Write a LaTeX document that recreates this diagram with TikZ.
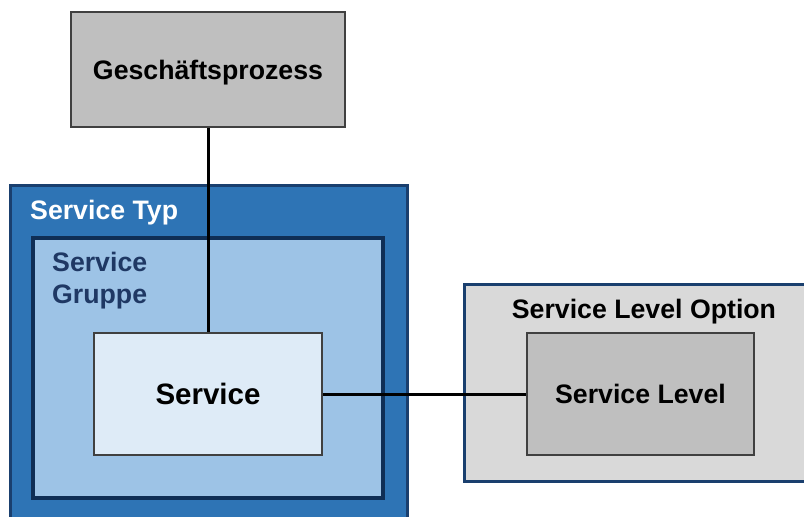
\documentclass[tikz,border=0pt]{standalone}
\usepackage{fontspec}
\setmainfont{Liberation Sans}
\definecolor{typfill}{HTML}{2E74B5}
\definecolor{typline}{HTML}{1A3F6E}
\definecolor{grpfill}{HTML}{9DC3E6}
\definecolor{grpline}{HTML}{0F2E55}
\definecolor{grptext}{HTML}{1F3864}
\definecolor{svcfill}{HTML}{DEEBF7}
\definecolor{boxline}{HTML}{404040}

\tikzset{
  lbl/.style={font=\bfseries\fontsize{26.7}{32}\selectfont},
  graybox/.style={draw=boxline, line width=1.5pt, lbl},
  link/.style={line width=3pt, black}
}

\begin{document}
\begin{tikzpicture}[x=1pt,y=1pt]
  \tikzstyle{every node}+=[inner sep=0pt]
  \useasboundingbox (0,0) rectangle (804,-517);
  \fill [white] (0,0) rectangle (804,-517);
  % business process
  \node [graybox, fill=black!25, minimum width=274, minimum height=115, text depth=0pt] (gp) at (208,-69.5) {Geschäftsprozess};
  % service type / group
  \node [draw=typline, fill=typfill, line width=3pt, minimum width=397, minimum height=340] (typ) at (208.5,-355) {};
  \node [lbl, white, anchor=base west] (typlbl) at (30,-219) {Service Typ};
  \node [draw=grpline, fill=grpfill, line width=3.5pt, minimum width=350, minimum height=260] (grp) at (208,-368) {};
  \node [lbl, grptext, anchor=north west, align=left] (grplbl) at (52,-252) {Service\\Gruppe};
  \node [graybox, fill=svcfill, minimum width=228, minimum height=122,
         font=\bfseries\fontsize{29.5}{34}\selectfont] (svc) at (208,-394) {Service};
  % service level option
  \node [draw=typline, fill=black!15, line width=3pt, minimum width=360, minimum height=197] (slo) at (644,-382.5) {};
  \node [lbl, anchor=base] (slolbl) at (644,-318) {Service Level Option};
  \node [graybox, fill=black!25, minimum width=227, minimum height=122] (sl) at (640.5,-394) {Service Level};
  % connectors
  \draw [link] (gp.south) -- (svc.north);
  \draw [link] (svc.east) -- (sl.west);
\end{tikzpicture}
\end{document}
